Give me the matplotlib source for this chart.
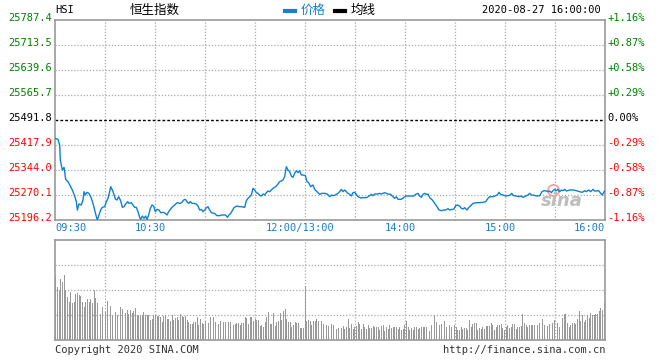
import numpy as np
import matplotlib
matplotlib.use('Agg')
import matplotlib.pyplot as plt
from matplotlib import transforms

plt.rcParams['font.family'] = ['DejaVu Sans Mono', 'Noto Sans CJK SC']

# ---- data ----
prev_close = 25491.8
y_ticks = [25196.2, 25270.1, 25344.0, 25417.9, 25491.8, 25565.7, 25639.6, 25713.5, 25787.4]
pct_labels = ['-1.16%', '-0.87%', '-0.58%', '-0.29%', '0.00%', '+0.29%', '+0.58%', '+0.87%', '+1.16%']

x_tick_min = [0, 60, 150, 210, 270, 330]
x_tick_labels = ['09:30', '10:30', '12:00/13:00', '14:00', '15:00', '16:00']

# trading minutes since 09:30 (lunch break removed)
price_min = [0, 1.8, 2.8, 3.2, 4.4, 5.4, 5.8, 6.4, 7.8, 9.2, 10.4, 11.8, 12.8, 13.4, 14.4, 15.8, 16.8,
             17.4, 18.2, 19.2, 20.4, 21.8, 22.8, 23.8, 24.8, 25.4, 26.4, 27.4, 28.4, 29.8, 30.8, 31.8,
             32.8, 33.4, 34.4, 35.2, 36.2, 37.2, 38.2, 39.4, 40.4, 41.4, 42.4, 43.6, 44.4, 45.8, 46.8,
             47.8, 48.8, 49.8, 50.8, 51.4, 52.4, 53.4, 54.4, 55.2, 56.2, 57.2, 58.2, 59.2, 60.2, 61.2,
             62.4, 63.4, 64.8, 66.2, 67.2, 68.2, 69.2, 70.2, 71.2, 72.4, 73.4, 74.8, 76.0, 77.2, 78.2,
             79.2, 80.2, 81.2, 82.2, 83.2, 84.8, 85.8, 86.8, 87.8, 88.8, 89.8, 90.8, 91.8, 92.8, 93.8,
             95.2, 96.2, 97.2, 98.8, 100.2, 101.2, 102.4, 103.4, 104.4, 105.4, 106.4, 107.4, 108.4,
             109.4, 110.4, 111.8, 113.8, 114.8, 115.8, 116.8, 117.8, 118.8, 119.8, 120.8, 121.8,
             122.8, 123.8, 124.8, 125.8, 126.8, 127.8, 128.8, 129.8, 130.8, 131.8, 132.8, 133.8,
             134.8, 135.8, 136.8, 137.8, 138.8, 139.8, 140.8, 141.8, 142.8, 143.8, 144.8, 145.8,
             146.8, 147.8, 148.8, 150.2, 151.2, 152.2, 153.4, 154.8, 155.8, 156.8, 157.8, 158.8,
             160.2, 161.8, 163.4, 164.8, 165.8, 166.8, 168.2, 169.8, 170.8, 171.8, 172.8, 173.8,
             174.8, 175.8, 176.8, 177.8, 178.8, 179.8, 180.8, 181.8, 183.4, 184.8, 186.8, 187.8,
             188.8, 189.8, 190.8, 191.8, 193.4, 194.8, 195.8, 196.8, 197.8, 198.8, 199.8, 201.4,
             202.8, 203.8, 204.8, 205.8, 207.8, 209.2, 210.4, 211.8, 213.8, 215.2, 216.4, 217.8,
             218.8, 219.8, 220.8, 221.8, 222.8, 223.8, 224.8, 226.4, 227.8, 229.2, 230.4, 231.8,
             233.2, 234.4, 235.8, 236.8, 238.4, 239.4, 240.4, 241.4, 242.8, 243.8, 244.8, 245.8,
             247.2, 248.2, 249.2, 250.8, 252.8, 254.8, 256.8, 258.4, 259.8, 260.8, 262.8, 264.4,
             265.4, 266.4, 267.4, 268.8, 270.4, 271.8, 273.2, 274.0, 275.2, 276.8, 278.4, 279.8,
             280.8, 282.4, 283.8, 284.8, 285.8, 286.8, 288.2, 289.4, 290.8, 292.2, 293.4, 294.8,
             295.8, 296.8, 297.8, 298.8, 299.8, 300.8, 301.8, 302.8, 303.8, 304.8, 305.8, 306.8,
             308.8, 310.8, 312.8, 314.8, 316.4, 317.8, 318.8, 320.2, 321.4, 322.8, 323.8, 324.8,
             326.2, 327.4, 328.4, 329.4, 330]
price_val = [25437.6, 25434.6, 25417.9, 25373.5, 25344.0, 25351.8, 25339.0, 25316.4, 25309.5, 25296.7,
             25284.9, 25267.1, 25250.4, 25225.7, 25243.5, 25240.5, 25255.3, 25279.9, 25270.1, 25278.0,
             25275.0, 25260.2, 25245.4, 25225.7, 25206.0, 25196.2, 25211.0, 25225.7, 25233.6, 25235.6,
             25250.4, 25260.2, 25279.9, 25294.7, 25284.9, 25275.0, 25258.2, 25255.3, 25265.1, 25253.3,
             25233.6, 25235.6, 25243.5, 25250.4, 25245.4, 25247.4, 25240.5, 25233.6, 25233.6, 25220.8,
             25204.1, 25198.1, 25208.0, 25201.1, 25208.0, 25198.1, 25211.0, 25230.7, 25240.5, 25237.6,
             25220.8, 25227.7, 25225.7, 25217.9, 25218.8, 25215.9, 25211.0, 25220.8, 25227.7, 25233.6,
             25237.6, 25243.5, 25247.4, 25245.4, 25247.4, 25255.3, 25257.3, 25250.4, 25245.4, 25250.4,
             25245.4, 25245.4, 25243.5, 25237.6, 25225.7, 25227.7, 25220.8, 25225.7, 25232.6, 25235.6,
             25225.7, 25217.9, 25215.9, 25213.9, 25209.0, 25209.0, 25211.0, 25211.0, 25211.0, 25204.1,
             25211.0, 25215.9, 25223.8, 25232.6, 25235.6, 25237.6, 25235.6, 25235.6, 25233.6, 25253.3,
             25260.2, 25265.1, 25270.1, 25289.8, 25284.9, 25277.0, 25275.0, 25269.1, 25267.1, 25273.0,
             25270.1, 25277.0, 25281.9, 25279.9, 25284.9, 25289.8, 25292.7, 25296.7, 25302.6, 25309.5,
             25311.5, 25314.4, 25324.3, 25353.8, 25344.0, 25339.0, 25326.2, 25322.3, 25334.1, 25342.0,
             25336.1, 25342.0, 25329.2, 25329.2, 25327.2, 25309.5, 25306.5, 25294.7, 25299.6, 25286.8,
             25281.9, 25277.0, 25272.0, 25275.0, 25275.0, 25273.0, 25265.1, 25270.1, 25268.1, 25270.1,
             25275.0, 25279.9, 25286.8, 25279.9, 25284.9, 25279.9, 25275.0, 25272.0, 25267.1, 25277.0,
             25278.0, 25272.0, 25265.1, 25261.2, 25262.2, 25262.2, 25265.1, 25268.1, 25272.0, 25268.1,
             25273.0, 25273.0, 25275.0, 25273.0, 25275.0, 25277.0, 25275.0, 25273.0, 25272.0, 25265.1,
             25260.2, 25265.1, 25257.3, 25257.3, 25262.2, 25267.1, 25267.1, 25267.1, 25267.1, 25272.0,
             25275.0, 25267.1, 25263.2, 25272.0, 25275.0, 25272.0, 25273.0, 25262.2, 25255.3, 25245.4,
             25235.6, 25225.7, 25223.8, 25225.7, 25225.7, 25229.7, 25225.7, 25227.7, 25228.7, 25238.5,
             25240.5, 25237.6, 25230.7, 25228.7, 25232.6, 25225.7, 25232.6, 25237.6, 25245.4, 25247.4,
             25247.4, 25248.4, 25250.4, 25260.2, 25265.1, 25265.1, 25268.1, 25270.1, 25278.0, 25272.0,
             25270.1, 25267.1, 25268.1, 25270.1, 25275.0, 25268.1, 25267.1, 25265.1, 25267.1, 25263.2,
             25267.1, 25270.1, 25275.0, 25270.1, 25270.1, 25268.1, 25267.1, 25268.1, 25279.9, 25282.9,
             25281.9, 25279.9, 25281.9, 25277.0, 25282.9, 25286.8, 25282.9, 25286.8, 25279.9, 25284.9,
             25282.9, 25286.8, 25281.9, 25284.9, 25284.9, 25282.9, 25279.9, 25278.0, 25282.9, 25279.9,
             25284.9, 25279.9, 25286.8, 25281.9, 25281.9, 25282.9, 25275.0, 25270.1, 25279.9, 25281.9]

# volume per minute, in units of the lower panel height (0-100)
volume = [64, 53, 49, 61, 58, 65, 50, 43, 38, 48, 37, 38, 46, 47, 45, 44, 38, 33, 38, 41,
          38, 41, 37, 50, 42, 37, 35, 26, 33, 30, 28, 39, 39, 34, 25, 28, 28, 25, 37, 33,
          31, 25, 27, 30, 26, 30, 27, 29, 32, 25, 25, 24, 25, 28, 25, 25, 25, 20, 21, 25,
          25, 24, 24, 23, 18, 24, 25, 21, 21, 19, 25, 20, 22, 23, 20, 26, 24, 23, 24, 20,
          18, 16, 16, 18, 18, 23, 15, 21, 17, 16, 19, 20, 17, 23, 22, 23, 18, 17, 16, 19,
          20, 18, 18, 15, 18, 18, 20, 15, 16,
          17, 17, 15, 17, 17, 23, 22, 16, 23, 23, 19, 21, 20, 20, 14, 15, 13, 18, 23, 28,
          16, 16, 27, 14, 18, 19, 27, 20, 29, 31, 21, 18, 18, 13, 15, 18, 17, 17, 12, 12, 12,
          54,
          19, 20, 19, 15, 19, 19, 21, 19, 22, 19, 16, 15, 15, 14, 18, 16, 15, 13, 11, 12,
          15, 12, 14, 11, 13, 21, 12, 16, 11, 13, 14, 18, 16, 11, 16, 13, 11, 15, 12, 12,
          14, 13, 13, 13, 10, 14, 15, 9, 13, 11, 15, 12, 13, 13, 13, 11, 13, 10, 11, 15,
          19, 13, 10, 12, 10, 13, 13, 11, 12, 13, 13,
          13, 13, 10, 9, 15, 16, 25, 18, 14, 15, 16, 15, 19, 13, 15, 15, 13, 17, 15, 13,
          10, 10, 13, 11, 12, 12, 10, 20, 13, 16, 17, 17, 10, 12, 11, 13, 11, 14, 14, 14,
          17, 15, 10, 13, 15, 15, 16, 12, 10, 13, 15, 12, 13, 16, 16, 11, 13, 13, 14, 26,
          17, 15, 13, 15, 15, 15, 15, 16, 15, 17, 15, 21, 15, 17, 14, 16, 15, 17, 20, 20,
          17, 13, 17, 22, 26, 26, 17, 13, 15, 17, 17, 16, 21, 29, 19, 25, 18, 20, 25, 22,
          27, 25, 25, 26, 26, 29, 32, 30, 37]

# ---- figure ----
W, H = 660, 360
fig = plt.figure(figsize=(6.6, 3.6), dpi=100)
fig.patch.set_facecolor('white')


def fx(x):
    return x / W


def fy(y):
    return 1 - y / H


ax = fig.add_axes([fx(55), fy(220), fx(605) - fx(55), fy(20) - fy(220)])
axv = fig.add_axes([fx(55), fy(340), fx(605) - fx(55), fy(240) - fy(340)])

grid_kw = dict(color='#aaaaaa', lw=0.9, ls=(0, (1, 1.5)), zorder=1)

for a in (ax, axv):
    a.set_xlim(0, 330)
    a.set_xticks([])
    a.set_yticks([])
    for s in a.spines.values():
        s.set_color('#999999')
        s.set_linewidth(1.2)
    for m in range(30, 330, 30):
        a.axvline(m, **grid_kw)

# price panel
ax.set_ylim(y_ticks[0], y_ticks[-1])
for v in y_ticks[1:-1]:
    if v == prev_close:
        ax.axhline(v, color='black', lw=1, ls=(0, (2, 1.5)), zorder=2)
    else:
        ax.axhline(v, **grid_kw)

ax.plot(price_min, price_val, color='#1080d0', lw=1.0, zorder=3)

up = transforms.offset_copy(ax.transData, fig=fig, y=2, units='dots')
left_tr = transforms.blended_transform_factory(ax.transAxes, up)
for v, p in zip(y_ticks, pct_labels):
    if v > prev_close:
        c = '#008000'
    elif v < prev_close:
        c = '#ff0000'
    else:
        c = 'black'
    ax.text(-0.006, v, f'{v:.1f}', transform=left_tr, ha='right', va='center',
            color=c, fontsize=7.5, clip_on=False)
    ax.text(1.004, v, p, transform=left_tr, ha='left', va='center',
            color=c, fontsize=7.5, clip_on=False)

# time labels
for m, lab in zip(x_tick_min, x_tick_labels):
    if m == 0:
        ha, dx = 'left', 0
    elif m == 330:
        ha, dx = 'right', 0
    else:
        ha, dx = 'center', -5
    tr = transforms.offset_copy(transforms.blended_transform_factory(ax.transData, ax.transAxes),
                                fig=fig, x=dx, y=-8, units='dots')
    ax.text(m, 0, lab, transform=tr, ha=ha, va='center', color='#1a7fd0',
            fontsize=7.5, clip_on=False)

# sina watermark
ax.text(0.96, 0.05, 'sina', transform=ax.transAxes, ha='right', va='bottom',
        fontsize=13, fontweight='bold', style='italic', color='#bdbdbd',
        family='DejaVu Sans', zorder=2)
ax.plot([0.905], [0.15], transform=ax.transAxes, marker='o', ms=8, mfc='none',
        mec='#f4a0a0', mew=1.3, zorder=2)

# volume panel
axv.set_ylim(0, 100)
for v in (25, 50, 75):
    axv.axhline(v, **grid_kw)
vol_x = np.linspace(0.5, 329.5, len(volume))
axv.bar(vol_x, volume, width=0.55, color='#999999', linewidth=0, zorder=2,
        antialiased=False)

# header
fig.text(fx(55), fy(10), 'HSI', ha='left', va='center', fontsize=7.5, color='black')
fig.text(fx(130), fy(10), '恒生指数', ha='left', va='center', fontsize=9,
         color='black', family=['Noto Sans CJK SC', 'DejaVu Sans'])
fig.add_artist(plt.Line2D([fx(285), fx(295)], [fy(11), fy(11)], color='#1a7fd0', lw=3))
fig.text(fx(301), fy(10), '价格', ha='left', va='center', fontsize=9,
         color='#1a7fd0', family=['Noto Sans CJK SC', 'DejaVu Sans'])
fig.add_artist(plt.Line2D([fx(335), fx(345)], [fy(11), fy(11)], color='black', lw=3))
fig.text(fx(351), fy(10), '均线', ha='left', va='center', fontsize=9,
         color='black', family=['Noto Sans CJK SC', 'DejaVu Sans'])
fig.text(fx(601), fy(10), '2020-08-27 16:00:00', ha='right', va='center',
         fontsize=7.5, color='black')

# footer
fig.text(fx(55), fy(350), 'Copyright 2020 SINA.COM', ha='left', va='center',
         fontsize=7.5, color='#333333')
fig.text(fx(605), fy(350), 'http://finance.sina.com.cn', ha='right', va='center',
         fontsize=7.5, color='#333333')

fig.savefig('out.png', dpi=100)
